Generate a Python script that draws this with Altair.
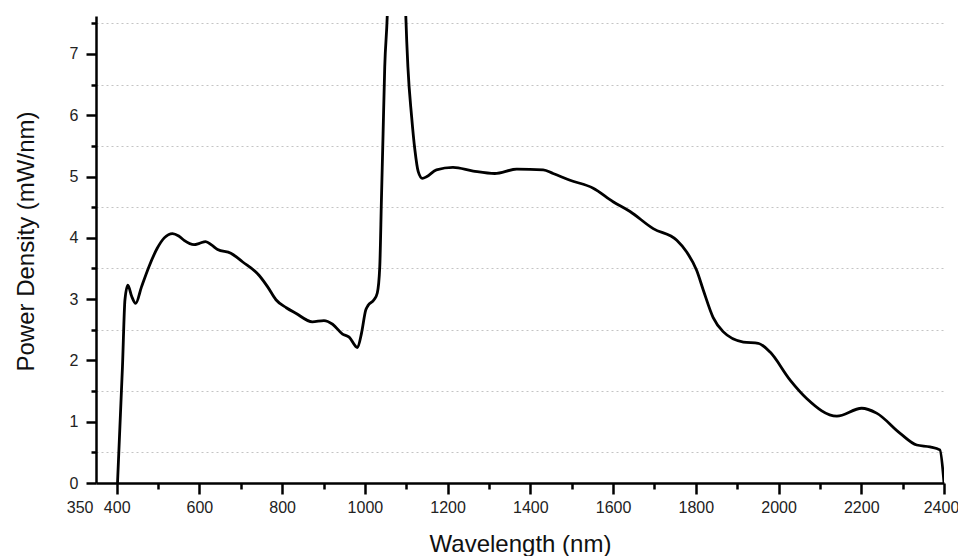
import altair as alt
import pandas as pd

wavelength = [402, 414, 420, 427, 436, 446, 460, 478, 498, 515, 535, 550, 563, 587, 600,
              615, 630, 644, 676, 704, 744, 765, 785, 810, 833, 873, 901, 922, 946, 962,
              982, 992, 1002, 1008, 1022, 1030, 1036, 1040, 1044, 1048, 1054, 1065, 1076,
              1088, 1099, 1104, 1113, 1121, 1129, 1139, 1150, 1173, 1213, 1262, 1314, 1367,
              1431, 1455, 1496, 1552, 1600, 1641, 1697, 1754, 1778, 1802, 1818, 1842, 1866,
              1915, 1951, 1979, 2028, 2068, 2141, 2201, 2237, 2294, 2334, 2366, 2390, 2400]
power = [0.0, 1.9, 2.99, 3.23, 3.05, 2.93, 3.2, 3.53, 3.83, 4.0, 4.07, 4.03, 3.96, 3.89, 3.91,
         3.94, 3.88, 3.81, 3.75, 3.61, 3.39, 3.2, 2.99, 2.86, 2.77, 2.63, 2.65, 2.59, 2.43, 2.38,
         2.21, 2.45, 2.82, 2.9, 2.99, 3.1, 3.53, 4.62, 5.70, 6.79, 7.61, 11.0, 14.0,
         11.0, 7.61, 6.79, 5.98, 5.43, 5.08, 4.97, 5.0, 5.11, 5.15, 5.09, 5.05, 5.12,
         5.11, 5.05, 4.94, 4.81, 4.59, 4.43, 4.15, 3.96, 3.77, 3.47, 3.15, 2.70, 2.47,
         2.30, 2.28, 2.14, 1.68, 1.38, 1.09, 1.22, 1.14, 0.81, 0.62, 0.59, 0.54, 0.0]

x_major = list(range(400, 2401, 200))
x_minor = list(range(500, 2400, 200))
x_start = [350]
y_major = list(range(0, 8))
y_minor = [0.5, 1.5, 2.5, 3.5, 4.5, 5.5, 6.5, 7.5]

df = pd.DataFrame({"wl": wavelength, "p": power})

FONT = "Liberation Sans"
X_DOMAIN = [350, 2400]
Y_DOMAIN = [0, 7.62]

common = dict(tickColor="black", tickWidth=2.5, labelFont=FONT, labelFontSize=16,
              labelColor="#222", labelOverlap=False, labelFlush=False, tickCount=100)

xs = alt.Scale(domain=X_DOMAIN, nice=False, zero=False)
ys = alt.Scale(domain=Y_DOMAIN, nice=False)

# minor ticks + dotted grid (drawn first, behind)
minor = alt.Chart(df).mark_line(opacity=0).encode(
    x=alt.X("wl:Q", scale=xs, axis=alt.Axis(
        orient="bottom", values=x_minor, tickSize=6, labels=False, domain=False,
        title=None, grid=False, **common)),
    y=alt.Y("p:Q", scale=ys, axis=alt.Axis(
        orient="left", values=y_minor, tickSize=5, labels=False, domain=False,
        title=None, grid=True, gridColor="#c4c4c4", gridDash=[2, 3], gridWidth=1,
        **common)),
)

# the curve with major ticks, labels and titles
main = alt.Chart(df).mark_line(
    color="black", strokeWidth=2.8, interpolate="monotone", clip=True
).encode(
    x=alt.X("wl:Q", scale=xs, axis=alt.Axis(
        orient="bottom", values=x_major, tickSize=11, format="d", labelPadding=5,
        domainColor="black", domainWidth=2.5, grid=False,
        labelOffset={"condition": {"test": "datum.value === 2400", "value": -3}, "value": 0},
        title="Wavelength (nm)", titleFont=FONT, titleFontSize=24,
        titleFontWeight="normal", titleColor="#111", titleY=68,
        titleBaseline="alphabetic", **common)),
    y=alt.Y("p:Q", scale=ys, axis=alt.Axis(
        orient="left", values=y_major, tickSize=10, format="d", labelPadding=8,
        domainColor="black", domainWidth=2.5, grid=False,
        title="Power Density (mW/nm)", titleFont=FONT, titleFontSize=24,
        titleFontWeight="normal", titleColor="#111", titleX=-63, titleY=225,
        titleBaseline="alphabetic", **common)),
)

# the "350" start label at the axis origin
start = alt.Chart(df).mark_line(opacity=0).encode(
    x=alt.X("wl:Q", scale=xs, axis=alt.Axis(
        orient="bottom", values=x_start, tickSize=0, format="d", labelPadding=16,
        labelAlign="right", labelOffset=-3, domain=False, title=None, grid=False,
        **common)),
    y=alt.Y("p:Q", scale=ys, axis=None),
)

chart = alt.layer(minor, main, start).resolve_axis(
    x="independent", y="independent"
).properties(
    width=848,
    height=467,
    padding={"left": 88, "top": 8, "right": 14, "bottom": 73},
    autosize=alt.AutoSizeParams(type="none"),
    background="white",
).configure_view(stroke=None)

chart.save("out.html", embed_options={"renderer": "svg", "actions": False})
